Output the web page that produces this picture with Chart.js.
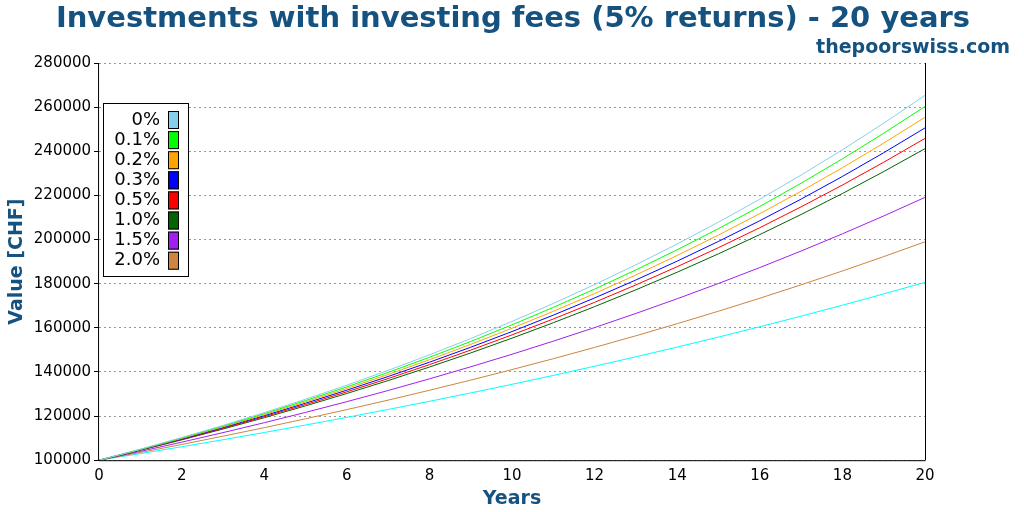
<!DOCTYPE html>
<html><head><script src="https://cdn.jsdelivr.net/npm/chart.js@4"></script>
<style>body{margin:0;background:#fff}#w{width:1024px;height:512px}</style></head>
<body><div id="w"><canvas id="c"></canvas></div>
<script>
const years=[0,1,2,3,4,5,6,7,8,9,10,11,12,13,14,15,16,17,18,19,20];
const labels=['0%','0.1%','0.2%','0.3%','0.5%','1.0%','1.5%','2.0%',''];
const colors=['#87ceeb','#00ff00','#ffa500','#0000ff','#ff0000','#006400','#a020f0','#cd853f','#00ffff'];
const s0=[100000,105000,110250,115760,121550,127630,134010,140710,147750,155130,162890,171030,179590,188560,197990,207890,218290,229200,240660,252700,265330];
const s1=[100000,104900,110040,115430,121090,127020,133240,139770,146620,153810,161340,169250,177540,186240,195370,204940,214980,225520,236570,248160,260320];
const s2=[100000,104800,109830,115100,120630,126420,132490,138850,145510,152490,159810,167480,175520,183950,192780,202030,211730,221890,232540,243700,255400];
const s3=[100000,104700,109620,114770,120170,125820,131730,137920,144400,151190,158300,165740,173530,181680,190220,199160,208520,218320,228580,239330,250580];
const s4=[100000,104600,109410,114450,119710,125220,130980,137000,143310,149900,156790,164000,171550,179440,187690,196330,205360,214810,224690,235020,245830];
const s5=[100000,104500,109200,114120,119250,124620,130230,136090,142210,148610,155300,162290,169590,177220,185190,193530,202240,211340,220850,230790,241170];
const s6=[100000,104000,108160,112490,116990,121670,126530,131590,136860,142330,148020,153950,160100,166510,173170,180090,187300,194790,202580,210680,219110];
const s7=[100000,103500,107120,110870,114750,118770,122930,127230,131680,136290,141060,146000,151110,156390,161870,167530,173400,179470,185750,192250,198980];
const s8=[100000,103000,106090,109270,112550,115930,119410,122990,126680,130480,134390,138420,142580,146850,151260,155800,160470,165280,170240,175350,180610];
const series=[s0,s1,s2,s3,s4,s5,s6,s7,s8];
const yTicks=[100000,120000,140000,160000,180000,200000,220000,240000,260000,280000];
const blue='#15527f';
const datasets=series.map((s,i)=>({label:labels[i],data:s.map((v,j)=>({x:years[j],y:v})),borderColor:colors[i],backgroundColor:colors[i],borderWidth:1,pointRadius:0,tension:0}));
const extra={id:'extra',afterDraw(ch){const c=ch.ctx,a=ch.chartArea;c.save();
c.strokeStyle='#000';c.lineWidth=1;c.beginPath();c.moveTo(a.left-0.5,a.top);c.lineTo(a.left-0.5,a.bottom+0.5);c.lineTo(a.right+0.5,a.bottom+0.5);c.moveTo(a.right+0.5,a.top);c.lineTo(a.right+0.5,a.bottom);c.stroke();
c.font='bold 29px "DejaVu Sans"';c.fillStyle=blue;c.textAlign='center';c.textBaseline='alphabetic';c.fillText('Investments with investing fees (5% returns) - 20 years',513,27);
c.font='bold 19px "DejaVu Sans"';c.textAlign='right';c.fillText('thepoorswiss.com',1010,53);
const x0=103,y0=103,n=8;c.fillStyle='#fff';c.fillRect(x0,y0,85,173);c.strokeRect(x0+0.5,y0+0.5,85,173);
c.font='18px "DejaVu Sans"';c.textBaseline='middle';
for(let i=0;i<n;i++){const y=y0+17+i*20.1;c.fillStyle='#000';c.textAlign='right';c.fillText(labels[i],160,y);
c.fillStyle=colors[i];c.fillRect(168,y-9,11,18);c.strokeRect(168.5,y-8.5,10,17);}
c.restore();}};
new Chart(document.getElementById('c'),{type:'line',data:{datasets},plugins:[extra],
options:{responsive:true,maintainAspectRatio:false,animation:false,
layout:{padding:{left:4,right:99,top:63,bottom:2}},
plugins:{legend:{display:false},tooltip:{enabled:false},title:{display:false}},
scales:{x:{type:'linear',min:0,max:20,ticks:{stepSize:2,color:'#000',font:{family:'DejaVu Sans',size:15},maxRotation:0,padding:2},
grid:{display:false,drawTicks:true,tickLength:5},border:{display:false},
title:{display:true,text:'Years',color:blue,font:{family:'DejaVu Sans',size:19,weight:'bold'},padding:0}},
y:{min:100000,max:280000,afterBuildTicks(ax){ax.ticks=yTicks.map(v=>({value:v}));},
ticks:{color:'#000',font:{family:'DejaVu Sans',size:15},padding:3,callback:v=>String(v)},
grid:{color:'#999',tickColor:'#000',tickLength:5,drawTicks:true},border:{display:false,dash:[2,3]},
title:{display:true,text:'Value [CHF]',color:blue,font:{family:'DejaVu Sans',size:19,weight:'bold'},padding:2}}}}});
</script></body></html>
